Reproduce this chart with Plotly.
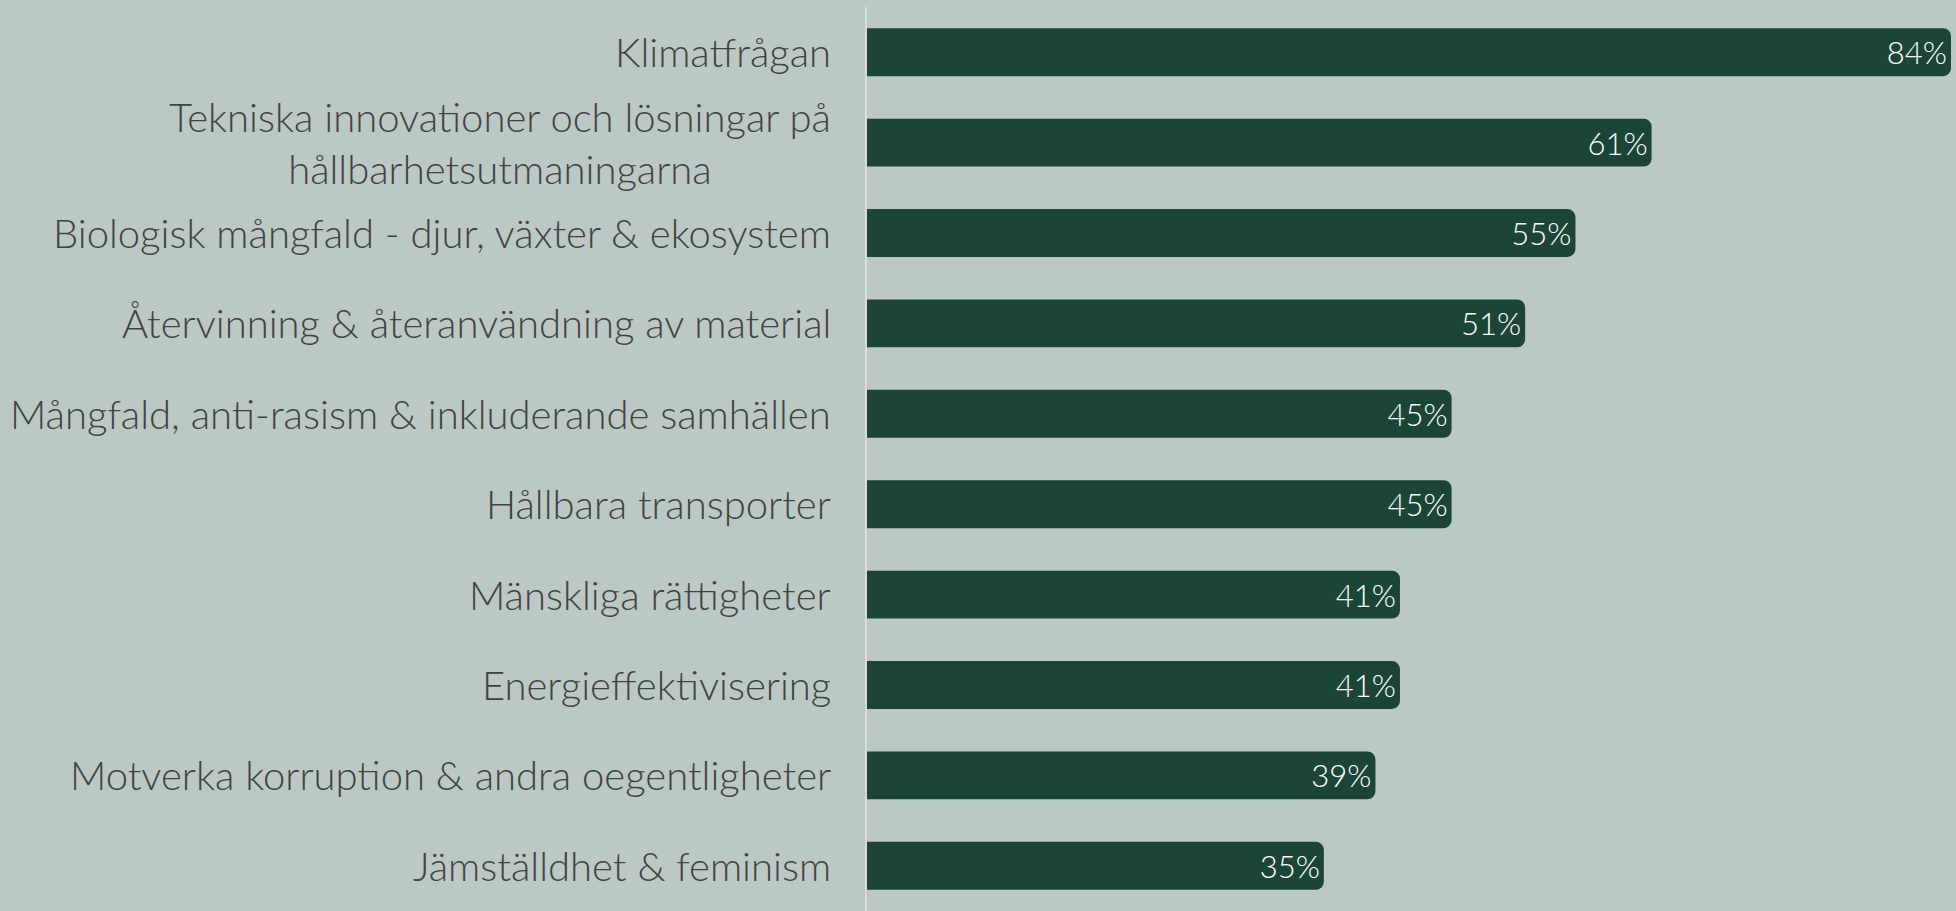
"""Horizontal bar chart: sustainability topics, share of respondents."""

import plotly.graph_objects as go

# Data (top to bottom as shown)
topics = [
    "Klimatfrågan",
    "Tekniska innovationer och lösningar på<br>hållbarhetsutmaningarna",
    "Biologisk mångfald - djur, växter & ekosystem",
    "Återvinning & återanvändning av material",
    "Mångfald, anti-rasism & inkluderande samhällen",
    "Hållbara transporter",
    "Mänskliga rättigheter",
    "Energieffektivisering",
    "Motverka korruption & andra oegentligheter",
    "Jämställdhet & feminism",
]
shares = [84.0, 60.8, 54.9, 51.0, 45.3, 45.3, 41.3, 41.3, 39.4, 35.4]

BG = "#bcc8c3"
BAR = "#1b4637"
LABEL = "#424242"
FONT = "Lato"

fig = go.Figure()

fig.add_trace(
    go.Bar(
        x=shares,
        y=topics,
        orientation="h",
        marker=dict(color=BAR, cornerradius=8, line=dict(width=0)),
        texttemplate="%{x:.0f}%",
        textposition="inside",
        insidetextanchor="end",
        constraintext="none",
        textfont=dict(family=FONT, size=31, color="white", weight=300),
        hoverinfo="skip",
    )
)

# Category labels as annotations so the wrapped one can be centred
for topic in topics:
    fig.add_annotation(
        x=0,
        xref="paper",
        y=topic,
        yref="y",
        text=topic,
        showarrow=False,
        xanchor="right",
        yanchor="middle",
        xshift=-34,
        align="center",
        font=dict(family=FONT, size=40, color=LABEL, weight=300),
    )

fig.update_layout(
    width=1956,
    height=911,
    paper_bgcolor=BG,
    plot_bgcolor=BG,
    bargap=0.47,
    showlegend=False,
    margin=dict(l=867, r=5, t=7, b=0),
    xaxis=dict(
        range=[0, 84],
        visible=False,
        showgrid=False,
        zeroline=False,
    ),
    yaxis=dict(
        autorange="reversed",
        showticklabels=False,
        showgrid=False,
        zeroline=False,
        ticks="",
        showline=True,
        linecolor="#d8dcda",
        linewidth=2,
    ),
)

fig.write_html(
    "out.html",
    config={"displayModeBar": False},
    post_script="document.body.style.margin='0';document.body.style.background='" + BG + "';",
)
